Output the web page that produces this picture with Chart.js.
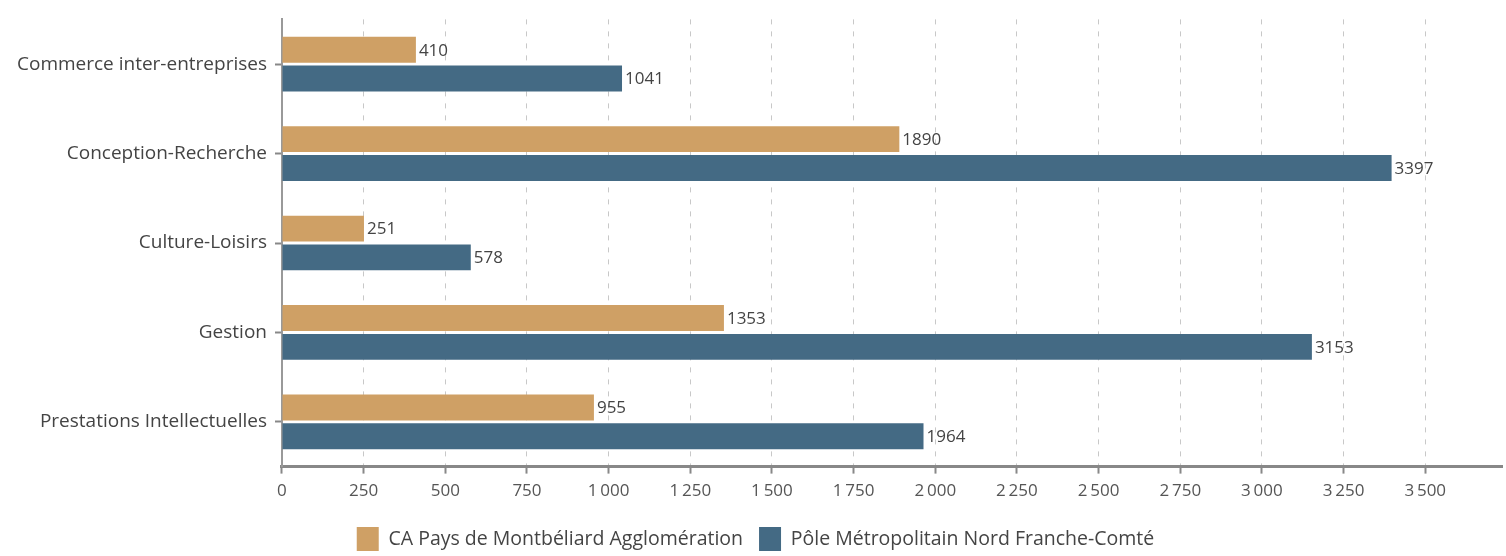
<!DOCTYPE html>
<html>
<head>
<meta charset="utf-8">
<script src="https://cdn.jsdelivr.net/npm/chart.js@4.4.1/dist/chart.umd.min.js"></script>
<style>
  html, body { margin: 0; padding: 0; background: #fff; }
  #wrap { width: 1506px; height: 556px; position: relative; }
</style>
</head>
<body>
<div id="wrap"><canvas id="c" width="1506" height="556"></canvas></div>
<script>
const categories = [
  'Commerce inter-entreprises',
  'Conception-Recherche',
  'Culture-Loisirs',
  'Gestion',
  'Prestations Intellectuelles'
];
const seriesNames = [
  'CA Pays de Montbéliard Agglomération',
  'Pôle Métropolitain Nord Franche-Comté'
];
const montbeliard = [410, 1890, 251, 1353, 955];
const poleNord = [1041, 3397, 578, 3153, 1964];
const xTicks = [0, 250, 500, 750, 1000, 1250, 1500, 1750, 2000, 2250, 2500, 2750, 3000, 3250, 3500];

const FONT = "'Open Sans', 'Noto Sans', sans-serif";

function fmt(v) {
  return String(v).replace(/\B(?=(\d{3})+(?!\d))/g, '\u2009');
}

// value labels drawn just past the end of each bar
const valueLabels = {
  id: 'valueLabels',
  afterDatasetsDraw(chart) {
    const ctx = chart.ctx;
    ctx.save();
    ctx.font = "17px " + FONT;
    ctx.fillStyle = '#444';
    ctx.textBaseline = 'middle';
    ctx.textAlign = 'left';
    chart.data.datasets.forEach((ds, i) => {
      chart.getDatasetMeta(i).data.forEach((bar, j) => {
        ctx.fillText(String(ds.data[j]), bar.x + 3, bar.y + 1);
      });
    });
    ctx.restore();
  }
};

new Chart(document.getElementById('c'), {
  type: 'bar',
  data: {
    labels: categories,
    datasets: [
      { label: seriesNames[0], data: montbeliard, backgroundColor: '#cfa065' },
      { label: seriesNames[1], data: poleNord, backgroundColor: '#446a84' }
    ]
  },
  options: {
    indexAxis: 'y',
    responsive: false,
    animation: false,
    categoryPercentage: 0.645,
    barPercentage: 0.897,
    layout: { padding: { top: 16, right: 4, left: 9, bottom: -5 } },
    plugins: {
      legend: {
        position: 'bottom',
        labels: {
          font: { family: FONT, size: 19.5 },
          color: '#444',
          boxWidth: 22,
          boxHeight: 24,
          padding: 16
        }
      },
      tooltip: { enabled: false }
    },
    scales: {
      x: {
        min: 0,
        max: 3735,
        afterBuildTicks(axis) {
          axis.ticks = xTicks.map(v => ({ value: v }));
        },
        afterFit(axis) {
          axis.height += 3;
        },
        grid: {
          color: '#c8c8c8',
          lineWidth: 1,
          tickColor: '#888',
          tickWidth: 2,
          tickLength: 7
        },
        border: { color: '#888', width: 3, dash: [5, 7] },
        ticks: {
          font: { family: FONT, size: 17 },
          color: '#555',
          padding: 7,
          maxRotation: 0,
          callback: v => fmt(v)
        }
      },
      y: {
        grid: {
          drawOnChartArea: false,
          offset: false,
          tickColor: '#888',
          tickWidth: 2,
          tickLength: 7
        },
        border: { color: '#999', width: 2 },
        ticks: {
          font: { family: FONT, size: 19 },
          color: '#444',
          padding: 8
        }
      }
    }
  },
  plugins: [valueLabels]
});
</script>
</body>
</html>
